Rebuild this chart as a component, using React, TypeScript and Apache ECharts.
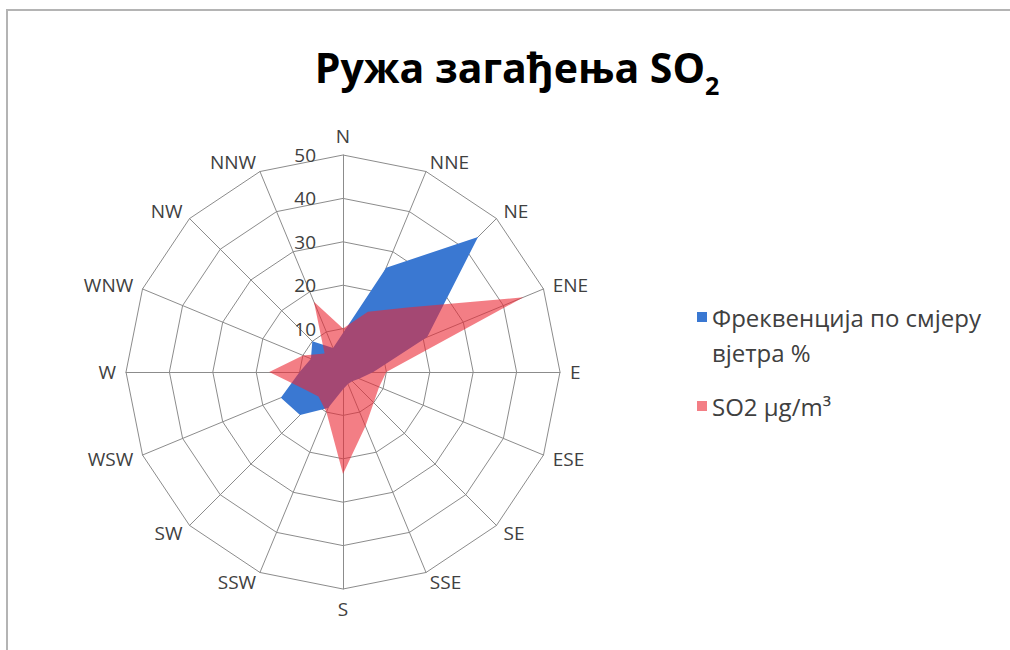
import React, { useEffect, useRef } from "react";
import * as echarts from "echarts";

const DIRECTIONS = ["N", "NNE", "NE", "ENE", "E", "ESE", "SE", "SSE", "S", "SSW", "SW", "WSW", "W", "WNW", "NW", "NNW"];
const FREQ = [9, 26, 44, 21, 7, 4, 3, 3, 4, 9, 14, 15.5, 10, 8, 10, 6];
const SO2 = [10, 15, 21, 45, 10, 9, 10, 13.5, 23.5, 10, 8, 10, 17, 10, 6, 17.5];
const AXIS_MAX = 50;
const AXIS_STEP = 10;

const FREQ_NAME = "Фреквенција по смјеру вјетра %";
const SO2_NAME = "SO2 µg/m³";

const FONT = "'Open Sans', 'Noto Sans', sans-serif";
const TXT = "#404040";
const BLUE = "#3A78D2";
const PINK = "rgba(235, 40, 52, 0.6)";

// ECharts radar goes counter-clockwise, so reorder for compass (clockwise) layout
const ORDER = DIRECTIONS.map((_, i) => (i === 0 ? 0 : DIRECTIONS.length - i));

export default function App() {
  const ref = useRef<HTMLDivElement>(null);
  useEffect(() => {
    if (!ref.current) return;
    const chart = echarts.init(ref.current, null, { renderer: "svg" });
    const center = [343, 372];
    const radius = 217;
    chart.setOption({
      animation: false,
      backgroundColor: "#ffffff",
      title: {
        text: "{t|Ружа загађења SO}{s|2}",
        left: 512,
        top: 35,
        textAlign: "center",
        textStyle: {
          rich: {
            t: { fontSize: 41, fontWeight: "bold", color: "#000", fontFamily: FONT, lineHeight: 54 },
            s: { fontSize: 25, fontWeight: "bold", color: "#000", fontFamily: FONT, lineHeight: 54, padding: [36, 0, 0, 0] },
          },
        },
      },
      legend: [
        {
          data: [FREQ_NAME],
          left: 697,
          top: 305,
          padding: 0,
          orient: "vertical",
          icon: "rect",
          itemWidth: 10,
          itemHeight: 10,
          formatter: () => "Фреквенција по смјеру",
          textStyle: { fontSize: 24, color: TXT, fontFamily: FONT },
          selectedMode: false,
        },
        {
          data: [SO2_NAME],
          left: 697,
          top: 394,
          padding: 0,
          orient: "vertical",
          icon: "rect",
          itemWidth: 10,
          itemHeight: 10,
          textStyle: { fontSize: 24, color: TXT, fontFamily: FONT },
          selectedMode: false,
        },
      ],
      graphic: [
        {
          type: "rect",
          shape: { x: 7, y: 10, width: 1200, height: 900 },
          style: { fill: "none", stroke: "#b4b4b4", lineWidth: 2 },
          silent: true,
        },
        {
          type: "text",
          x: 712,
          y: 352,
          style: { text: "вјетра %", fontSize: 24, fill: TXT, fontFamily: FONT, verticalAlign: "middle" },
          silent: true,
        },
      ],
      radar: {
        center,
        radius,
        startAngle: 90,
        shape: "polygon",
        splitNumber: AXIS_MAX / AXIS_STEP,
        indicator: ORDER.map((i) => ({ name: DIRECTIONS[i], min: 0, max: AXIS_MAX })),
        axisName: { color: TXT, fontSize: 19, fontFamily: FONT },
        nameGap: 10,
        splitLine: { lineStyle: { color: "#8c8c8c", width: 1 } },
        axisLine: { lineStyle: { color: "#8c8c8c", width: 1 } },
        splitArea: { show: false },
        axisTick: { show: false },
        axisLabel: { show: false },
      },
      polar: { center, radius },
      angleAxis: { show: false, startAngle: 90, min: 0, max: 360 },
      radiusAxis: {
        min: 0,
        max: AXIS_MAX,
        interval: AXIS_STEP,
        axisLine: { show: false },
        axisTick: { show: false },
        splitLine: { show: false },
        axisLabel: { show: true, color: TXT, fontSize: 19, fontFamily: FONT, margin: 27, padding: [8, 0, 0, 0] },
      },
      series: [
        {
          type: "radar",
          name: FREQ_NAME,
          symbol: "none",
          lineStyle: { width: 0 },
          itemStyle: { color: BLUE },
          areaStyle: { color: BLUE, opacity: 1 },
          data: [{ value: ORDER.map((i) => FREQ[i]), name: FREQ_NAME }],
        },
        {
          type: "radar",
          name: SO2_NAME,
          symbol: "none",
          lineStyle: { width: 0 },
          itemStyle: { color: PINK },
          areaStyle: { color: PINK, opacity: 1 },
          data: [{ value: ORDER.map((i) => SO2[i]), name: SO2_NAME }],
        },
        {
          type: "scatter",
          coordinateSystem: "polar",
          data: [],
          silent: true,
        },
      ],
    });
    return () => chart.dispose();
  }, []);
  return <div ref={ref} style={{ position: "absolute", left: 0, top: 0, width: 1010, height: 650 }} />;
}
